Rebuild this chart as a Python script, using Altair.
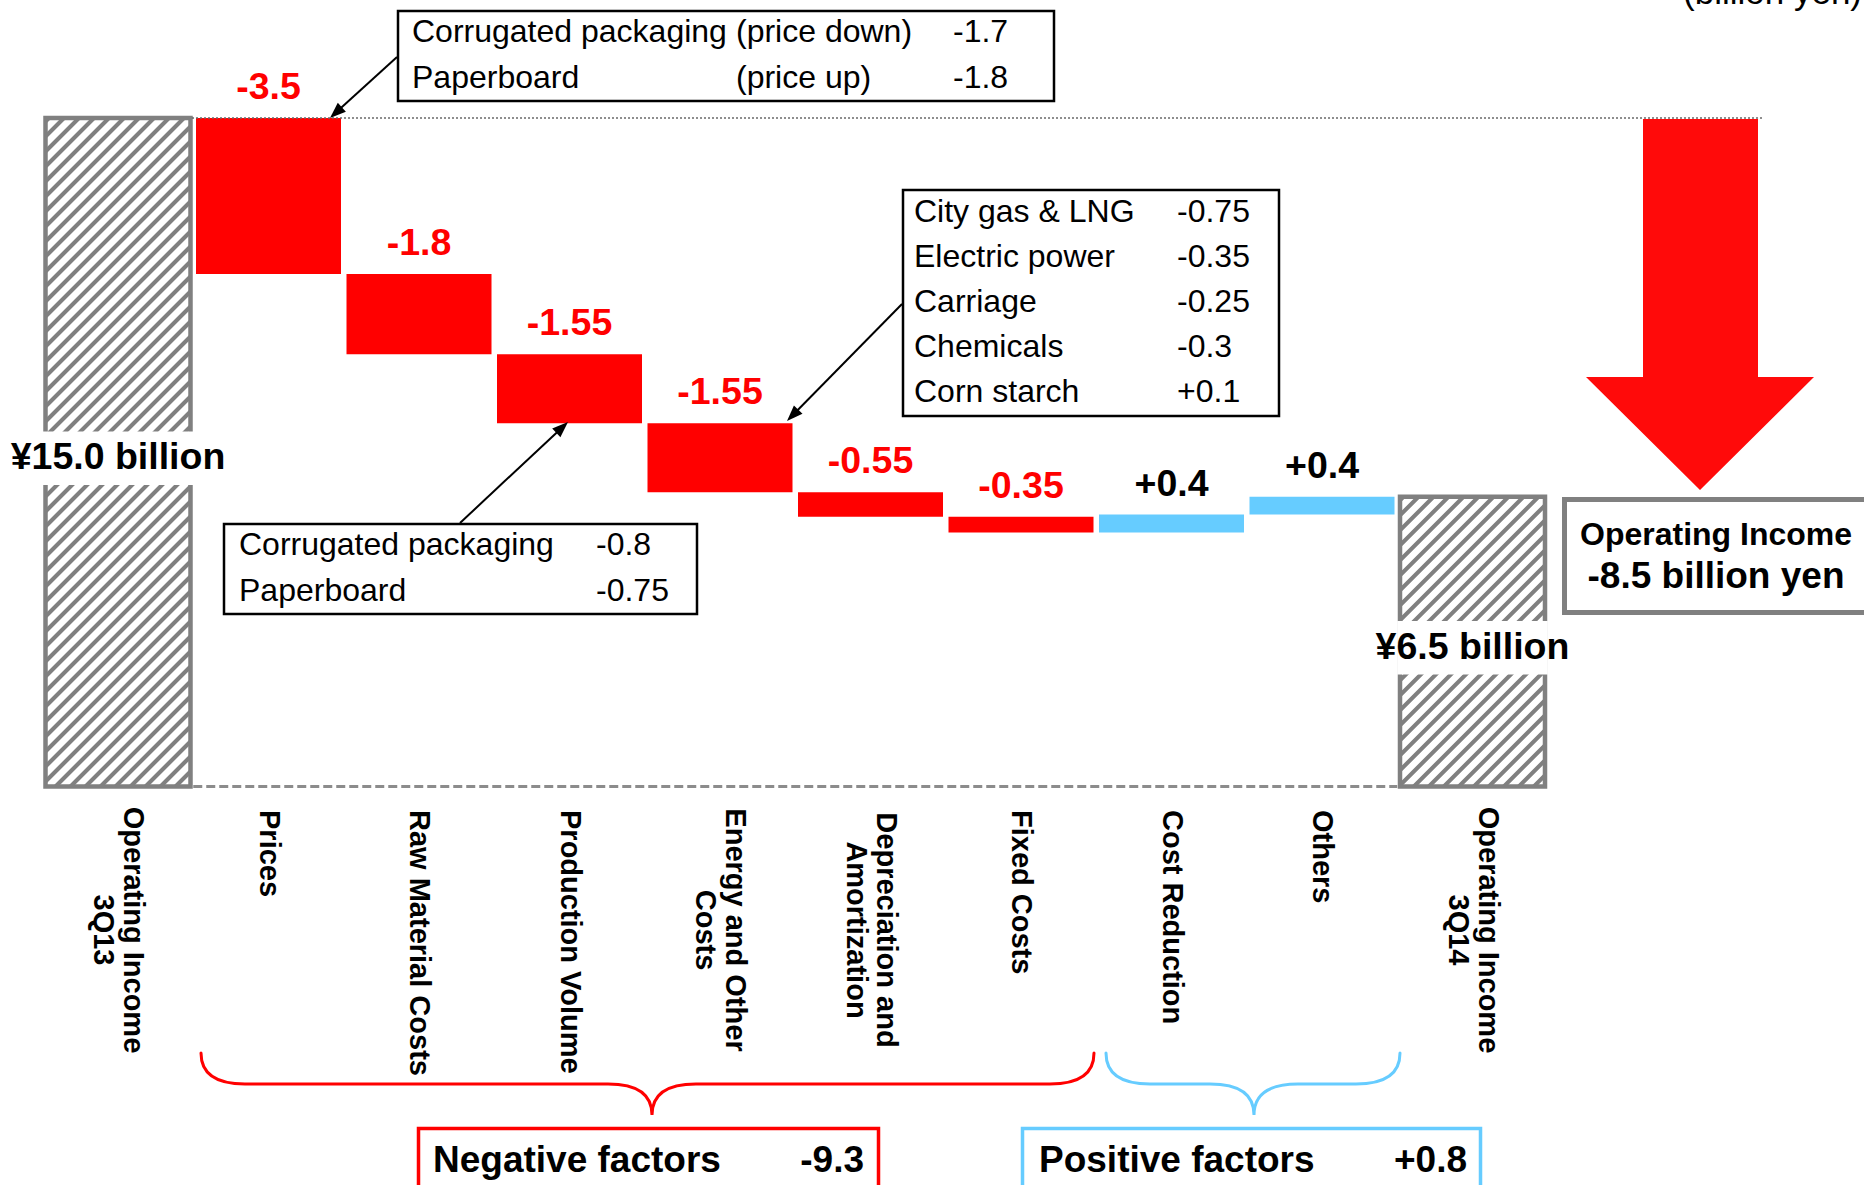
import math
import altair as alt
import pandas as pd

# ---------------- data ----------------
categories = [
    "Operating Income\n3Q13", "Prices", "Raw Material Costs", "Production Volume",
    "Energy and Other\nCosts", "Depreciation and\nAmortization", "Fixed Costs",
    "Cost Reduction", "Others", "Operating Income\n3Q14",
]
start_income = 15.0
deltas = [-3.5, -1.8, -1.55, -1.55, -0.55, -0.35, 0.4, 0.4]
end_income = 6.5

price_items = ["Corrugated packaging", "Paperboard"]
price_notes = ["(price down)", "(price up)"]
price_values = [-1.7, -1.8]

volume_items = ["Corrugated packaging", "Paperboard"]
volume_values = [-0.8, -0.75]

energy_items = ["City gas & LNG", "Electric power", "Carriage", "Chemicals", "Corn starch"]
energy_values = [-0.75, -0.35, -0.25, -0.3, 0.1]

unit_label = "(billion yen)"
summary_title = "Operating Income"
negative_title = "Negative factors"
positive_title = "Positive factors"

# ---------------- styles / layout ----------------
FONT = "Liberation Sans"
RED = "#FF0000"
BLUE = "#66CCFF"
GRAY = "#808080"

W, H = 1864, 1185
PX_PER_SLOT = 150.5
SLOT0_PX = 118.0
PX_PER_UNIT = 44.57
BASE_PX = 786.5
BAR_HALF = 72.5 / PX_PER_SLOT

X_SC = alt.Scale(domain=[-SLOT0_PX / PX_PER_SLOT, (W - SLOT0_PX) / PX_PER_SLOT],
                 range=[0, W], nice=False, zero=False)
Y_SC = alt.Scale(domain=[-(H - BASE_PX) / PX_PER_UNIT, BASE_PX / PX_PER_UNIT],
                 range=[H, 0], nice=False, zero=False)


def fmt(v):
    return f"{round(v, 4):+g}"


# ---------------- waterfall table ----------------
rows = []
cum = start_income
rows.append(dict(u=0, lo=0.0, hi=start_income, kind="total", value=start_income))
for k, d in enumerate(deltas):
    nxt = round(cum + d, 4)
    rows.append(dict(u=k + 1, lo=min(cum, nxt), hi=max(cum, nxt),
                     kind="neg" if d < 0 else "pos", value=d))
    cum = nxt
rows.append(dict(u=len(categories) - 1, lo=0.0, hi=end_income, kind="total", value=end_income))
bars = pd.DataFrame(rows)
bars["x0"] = bars.u - BAR_HALF
bars["x1"] = bars.u + BAR_HALF
bars["mid"] = (bars.lo + bars.hi) / 2
bars["fillc"] = bars.kind.map({"neg": RED, "pos": BLUE, "total": "white"})
bars["labc"] = bars.kind.map({"neg": RED, "pos": "black", "total": "black"})
bars["label"] = [fmt(v) for v in bars.value]
bars["total_label"] = [f"¥{v:.1f} billion" for v in bars.value]

BAND_SHIFT = 6 / PX_PER_UNIT   # white band sits a few px below the bar middle
totals = bars[bars.kind == "total"].copy()
totals["b0"] = totals.u - 0.5
totals["b1"] = totals.u + 0.5
totals["w0"] = totals.mid - BAND_SHIFT - 0.6
totals["w1"] = totals.mid - BAND_SHIFT + 0.6
moves = bars[bars.kind != "total"]

XE = dict(scale=X_SC, axis=None)
YE = dict(scale=Y_SC, axis=None)


def hatch_gradient(w, h, period=15.0, dark=4.5, ramp=1.3):
    L = w + h
    k = L / (w * w + h * h)
    stops = [alt.GradientStop(offset=0, color="white")]
    j = 0
    while j * period / L < 1:
        a = j * period
        pts = [(a, "white"), (a + ramp, GRAY), (a + ramp + dark, GRAY), (a + 2 * ramp + dark, "white")]
        for p, c in pts:
            if p / L <= 1:
                stops.append(alt.GradientStop(offset=p / L, color=c))
        j += 1
    stops.append(alt.GradientStop(offset=1, color="white"))
    return alt.LinearGradient(gradient="linear", stops=stops, x1=0, y1=0, x2=k * w, y2=k * h)


layers = []

# hatched total bars
for _, r in totals.iterrows():
    w = 2 * BAR_HALF * PX_PER_SLOT
    h = (r.hi - r.lo) * PX_PER_UNIT
    sub = bars[bars.u == r.u][["u", "x0", "x1", "lo", "hi"]]
    layers.append(
        alt.Chart(sub).mark_rect(fill=hatch_gradient(w, h), stroke=GRAY, strokeWidth=4.5).encode(
            x=alt.X("x0:Q", **XE), x2="x1:Q", y=alt.Y("lo:Q", **YE), y2="hi:Q")
    )

# white band behind the totals text
layers.append(
    alt.Chart(totals[["b0", "b1", "w0", "w1"]]).mark_rect(fill="white", stroke=None).encode(
        x=alt.X("b0:Q", **XE), x2="b1:Q", y=alt.Y("w0:Q", **YE), y2="w1:Q")
)

# floating bars
layers.append(
    alt.Chart(moves[["x0", "x1", "lo", "hi", "fillc"]]).mark_rect(stroke=None).encode(
        x=alt.X("x0:Q", **XE), x2="x1:Q", y=alt.Y("lo:Q", **YE), y2="hi:Q",
        fill=alt.Fill("fillc:N", scale=None))
)

# dotted reference at starting level
layers.append(
    alt.Chart(pd.DataFrame({"v": [start_income]})).mark_rule(
        color="#6a6a6a", strokeWidth=1.5, strokeDash=[2, 2]).encode(
        x=alt.value(192), x2=alt.value(1762), y=alt.Y("v:Q", **YE))
)
# dashed baseline
layers.append(
    alt.Chart(pd.DataFrame({"a": [0.5], "b": [len(categories) - 1.5], "v": [0.0]})).mark_rule(
        color="#8c8c8c", strokeWidth=3, strokeDash=[9, 4]).encode(
        x=alt.X("a:Q", **XE), x2="b:Q", y=alt.Y("v:Q", **YE))
)

# value labels above floating bars
layers.append(
    alt.Chart(moves[["u", "hi", "label", "labc"]]).mark_text(
        dy=-30, baseline="middle", align="center", font=FONT, fontSize=37.5, fontWeight="bold").encode(
        x=alt.X("u:Q", **XE), y=alt.Y("hi:Q", **YE), text="label:N",
        color=alt.Color("labc:N", scale=None))
)
# totals labels
layers.append(
    alt.Chart(totals[["u", "mid", "total_label"]]).mark_text(
        dy=6, baseline="middle", align="center", font=FONT, fontSize=37.5, fontWeight="bold",
        color="black").encode(
        x=alt.X("u:Q", **XE), y=alt.Y("mid:Q", **YE), text="total_label:N")
)

# category labels
LINE_H = 30
cat_df = pd.DataFrame({"u": list(range(len(categories))), "cat": categories})
cat_df["ux"] = cat_df.u + (LINE_H / 2) / PX_PER_SLOT
single = cat_df[~cat_df.cat.str.contains("\n")]
multi = cat_df[cat_df.cat.str.contains("\n")]
layers.append(
    alt.Chart(single).mark_text(angle=90, align="left", baseline="middle", font=FONT,
                                fontSize=29, fontWeight="bold", color="black").encode(
        x=alt.X("u:Q", **XE), y=alt.value(810), text="cat:N")
)
layers.append(
    alt.Chart(multi).mark_text(angle=90, align="center", baseline="middle", font=FONT,
                               fontSize=29, fontWeight="bold", color="black",
                               lineBreak="\n", lineHeight=LINE_H).encode(
        x=alt.X("ux:Q", **XE), y=alt.value(930), text="cat:N")
)


# ---------------- annotations (pixel space) ----------------
def px_text(rows_, align, size, weight="normal", color="black", baseline="middle"):
    df = pd.DataFrame(rows_, columns=["text", "px", "py"])
    return alt.Chart(df).mark_text(align=align, baseline=baseline, font=FONT, fontSize=size,
                                   fontWeight=weight, color=color).encode(
        x=alt.X("px:Q", scale=None, axis=None), y=alt.Y("py:Q", scale=None, axis=None),
        text="text:N")


def path_from(cmds, cx, cy, s):
    out = []
    for c, pts in cmds:
        coords = " ".join(f"{(x - cx) / s:.5f},{(y - cy) / s:.5f}" for x, y in pts)
        out.append(f"{c}{coords}")
    return " ".join(out)


# boxes
boxes = pd.DataFrame([
    dict(x=398, x2=1054, y=11, y2=101, st="black", sw=2.5),
    dict(x=903, x2=1279, y=190, y2=416, st="black", sw=2.5),
    dict(x=224, x2=697, y=524, y2=614, st="black", sw=2.5),
    dict(x=1564.5, x2=1880, y=499.5, y2=612.5, st=GRAY, sw=5),
    dict(x=418.5, x2=878.5, y=1128.5, y2=1210, st=RED, sw=3.5),
    dict(x=1022.5, x2=1480.5, y=1128.5, y2=1210, st=BLUE, sw=3.5),
])
layers.append(
    alt.Chart(boxes).mark_rect(fill="white").encode(
        x=alt.X("x:Q", scale=None, axis=None), x2="x2:Q",
        y=alt.Y("y:Q", scale=None, axis=None), y2="y2:Q",
        stroke=alt.Stroke("st:N", scale=None), strokeWidth=alt.StrokeWidth("sw:Q", scale=None))
)

# connectors with arrowheads
conn = [((397, 57), (330, 118)), ((902, 304), (787, 421)), ((460, 523), (568, 422))]
seg_rows, head_rows = [], []
for (sx, sy), (tx, ty) in conn:
    dx, dy = tx - sx, ty - sy
    n = math.hypot(dx, dy)
    seg_rows.append(dict(x=sx, y=sy, x2=tx - dx / n * 8, y2=ty - dy / n * 8))
    ang = math.degrees(math.atan2(dx, -dy)) % 360
    head_rows.append(dict(x=tx, y=ty, ang=ang))
layers.append(
    alt.Chart(pd.DataFrame(seg_rows)).mark_rule(color="black", strokeWidth=2).encode(
        x=alt.X("x:Q", scale=None, axis=None), x2="x2:Q",
        y=alt.Y("y:Q", scale=None, axis=None), y2="y2:Q")
)
layers.append(
    alt.Chart(pd.DataFrame(head_rows)).mark_point(
        shape="M0,0 L-0.375,1 L0.375,1 Z", size=1024, filled=True, color="black",
        opacity=1, strokeWidth=0).encode(
        x=alt.X("x:Q", scale=None, axis=None), y=alt.Y("y:Q", scale=None, axis=None),
        angle=alt.Angle("ang:Q", scale=None))
)

# big red arrow
acx, acy, As = 1700.0, 304.5, 185.5
arrow_path = path_from([
    ("M", [(1643, 119)]), ("L", [(1758, 119)]), ("L", [(1758, 377)]), ("L", [(1814, 377)]),
    ("L", [(1700, 490)]), ("L", [(1586, 377)]), ("L", [(1643, 377)]), ("Z", []),
], acx, acy, As)
layers.append(
    alt.Chart(pd.DataFrame({"x": [acx], "y": [acy]})).mark_point(
        shape=arrow_path, size=(2 * As) ** 2, filled=True, color="#FF0A0A", opacity=1,
        strokeWidth=0).encode(
        x=alt.X("x:Q", scale=None, axis=None), y=alt.Y("y:Q", scale=None, axis=None))
)


# braces
def brace(x0, x1, xt, y_top, y_h, y_tip, r, rt):
    cx, cy = (x0 + x1) / 2, (y_top + y_tip) / 2
    s = (x1 - x0) / 2 + 4
    p = path_from([
        ("M", [(x0, y_top)]), ("Q", [(x0, y_h), (x0 + r, y_h)]), ("L", [(xt - rt, y_h)]),
        ("Q", [(xt, y_h), (xt, y_tip)]), ("Q", [(xt, y_h), (xt + rt, y_h)]),
        ("L", [(x1 - r, y_h)]), ("Q", [(x1, y_h), (x1, y_top)]),
    ], cx, cy, s)
    return p, cx, cy, s


for (x0, x1, xt, col) in [(201, 1094, 652, RED), (1106, 1400, 1254, BLUE)]:
    p, cx, cy, s = brace(x0, x1, xt, 1053, 1084, 1115, 44, 44)
    layers.append(
        alt.Chart(pd.DataFrame({"x": [cx], "y": [cy]})).mark_point(
            shape=p, size=(2 * s) ** 2, filled=False, color=col, opacity=1, strokeWidth=3,
            strokeCap="round").encode(
            x=alt.X("x:Q", scale=None, axis=None), y=alt.Y("y:Q", scale=None, axis=None))
    )

# box texts
BOX_FS = 32
rowsA_y = [32, 78]
layers.append(px_text([(t, 412, y) for t, y in zip(price_items, rowsA_y)], "left", BOX_FS))
layers.append(px_text([(t, 736, y) for t, y in zip(price_notes, rowsA_y)], "left", BOX_FS))
layers.append(px_text([(fmt(v), 953, y) for v, y in zip(price_values, rowsA_y)], "left", BOX_FS))

rowsB_y = [212 + 45.1 * i for i in range(len(energy_items))]
layers.append(px_text([(t, 914, y) for t, y in zip(energy_items, rowsB_y)], "left", BOX_FS))
layers.append(px_text([(fmt(v), 1177, y) for v, y in zip(energy_values, rowsB_y)], "left", BOX_FS))

rowsC_y = [545, 591]
layers.append(px_text([(t, 239, y) for t, y in zip(volume_items, rowsC_y)], "left", BOX_FS))
layers.append(px_text([(fmt(v), 596, y) for v, y in zip(volume_values, rowsC_y)], "left", BOX_FS))

# summary box text
change = end_income - start_income
layers.append(px_text([(summary_title, 1716, 535)], "center", 32, "bold"))
layers.append(px_text([(f"{change:+.1f} billion yen", 1716, 577)], "center", 37, "bold"))

# factor totals
neg_sum = round(sum(d for d in deltas if d < 0), 4)
pos_sum = round(sum(d for d in deltas if d > 0), 4)
layers.append(px_text([(negative_title, 433, 1161), (positive_title, 1039, 1161)], "left", 37, "bold"))
layers.append(px_text([(fmt(neg_sum), 864, 1161), (fmt(pos_sum), 1467, 1161)], "right", 37, "bold"))

# unit label (partly cut at top, as in the original slide)
layers.append(px_text([(unit_label, 1862, 4)], "right", 35, "normal", baseline="alphabetic"))

chart = alt.layer(*layers).properties(
    width=W, height=H, padding=0, autosize=alt.AutoSizeParams(type="none"),
    background="white",
).resolve_scale(x="independent", y="independent").configure_view(stroke=None)

chart.save("out.html", embed_options={"renderer": "svg", "actions": False})
